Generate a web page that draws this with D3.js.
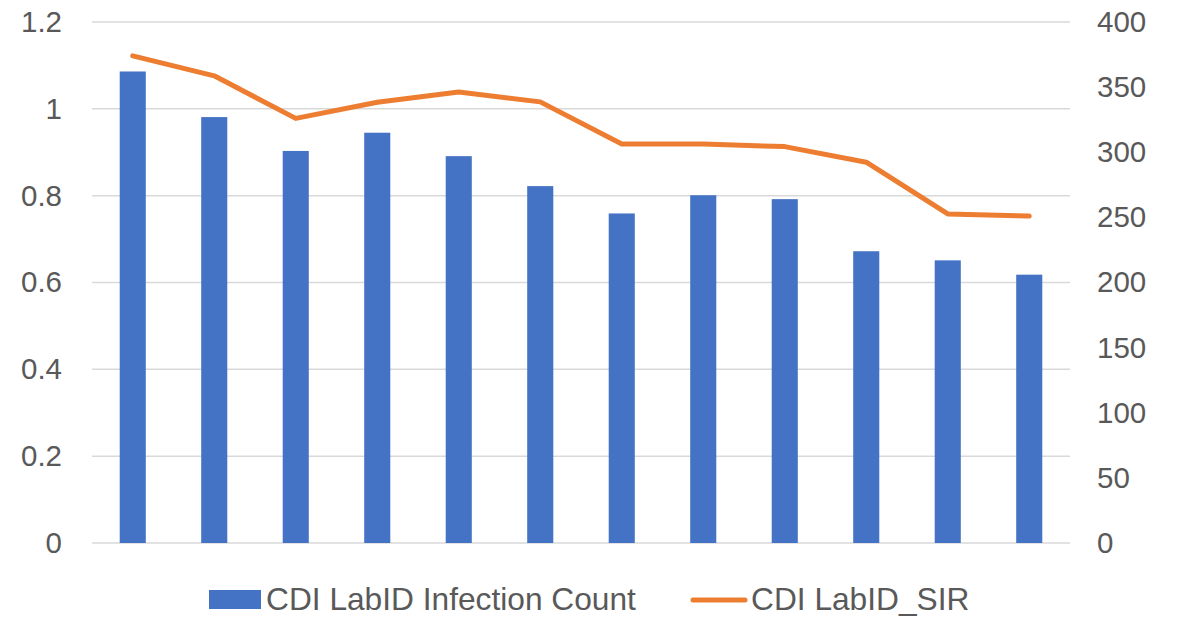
<!DOCTYPE html>
<html>
<head>
<meta charset="utf-8">
<script src="https://cdn.jsdelivr.net/npm/d3@7"></script>
<style>
  body { margin: 0; background: #fff; }
  text { font-family: "Liberation Sans", Arial, sans-serif; fill: #595959; }
</style>
</head>
<body>
<svg id="drawing_region"></svg>
<script>

// categories (no labels shown on the x axis)
var categories = ['1','2','3','4','5','6','7','8','9','10','11','12'];
// CDI LabID Infection Count (right axis)
var infectionCount = [362, 327, 301, 315, 297, 274, 253, 267, 264, 224, 217, 206];
// CDI LabID_SIR (left axis)
var sirValues = [1.122, 1.076, 0.978, 1.015, 1.039, 1.016, 0.919, 0.919, 0.913, 0.877, 0.758, 0.753];
var leftTicks = [0, 0.2, 0.4, 0.6, 0.8, 1, 1.2];
var rightTicks = [0, 50, 100, 150, 200, 250, 300, 350, 400];
var seriesNames = ['CDI LabID Infection Count', 'CDI LabID_SIR'];

var config = {
    width: 1178,
    height: 618,
    margin: {top: 22, right: 108, bottom: 75, left: 92}
};

var svg = d3.select('#drawing_region')
    .attr('width', config.width)
    .attr('height', config.height);

var inner_width = config.width - config.margin.left - config.margin.right;
var inner_height = config.height - config.margin.top - config.margin.bottom;

var chart = svg.append('g')
    .attr('transform', `translate(${config.margin.left}, ${config.margin.top})`);

var xscale = d3.scaleBand()
    .domain(categories)
    .range([0, inner_width])
    .paddingInner(0.68)
    .paddingOuter(0.34);

var yleft = d3.scaleLinear()
    .domain([0, 1.2])
    .range([inner_height, 0]);

var yright = d3.scaleLinear()
    .domain([0, 400])
    .range([inner_height, 0]);

// gridlines follow the left axis
chart.append('g')
    .selectAll('line')
    .data(leftTicks)
    .enter()
    .append('line')
    .attr('x1', 0)
    .attr('x2', inner_width)
    .attr('y1', d => yleft(d))
    .attr('y2', d => yleft(d))
    .attr('stroke', '#d9d9d9')
    .attr('stroke-width', 1.5);

// left axis
var left_axis = chart.append('g')
    .attr('transform', 'translate(-30, 0)')
    .call(d3.axisLeft(yleft).tickValues(leftTicks).tickSize(0).tickPadding(0).tickFormat(d3.format('~g')));
left_axis.select('.domain').remove();
left_axis.selectAll('text')
    .style('font-size', '29.5px')
    .style('font-family', '"Liberation Sans", Arial, sans-serif')
    .attr('fill', '#595959');

// right axis
var right_axis = chart.append('g')
    .attr('transform', `translate(${inner_width + 27}, 0)`)
    .call(d3.axisRight(yright).tickValues(rightTicks).tickSize(0).tickPadding(0));
right_axis.select('.domain').remove();
right_axis.selectAll('text')
    .style('font-size', '29.5px')
    .style('font-family', '"Liberation Sans", Arial, sans-serif')
    .attr('fill', '#595959');

// bars
chart.append('g')
    .selectAll('rect')
    .data(infectionCount)
    .enter()
    .append('rect')
    .attr('x', (d, i) => xscale(categories[i]))
    .attr('y', d => yright(d))
    .attr('width', xscale.bandwidth())
    .attr('height', d => inner_height - yright(d))
    .attr('fill', '#4472c4');

// line
var line = d3.line()
    .x((d, i) => xscale(categories[i]) + xscale.bandwidth() / 2)
    .y(d => yleft(d));

chart.append('path')
    .datum(sirValues)
    .attr('d', line)
    .attr('fill', 'none')
    .attr('stroke', '#ed7d31')
    .attr('stroke-width', 5)
    .attr('stroke-linecap', 'round')
    .attr('stroke-linejoin', 'round');

// legend
var legend = svg.append('g');
legend.append('rect')
    .attr('x', 209)
    .attr('y', 590)
    .attr('width', 52)
    .attr('height', 19)
    .attr('fill', '#4472c4');
legend.append('text')
    .attr('x', 266)
    .attr('y', 599)
    .attr('dy', '0.35em')
    .style('font-size', '31.7px')
    .text(seriesNames[0]);
legend.append('line')
    .attr('x1', 693)
    .attr('x2', 745)
    .attr('y1', 600)
    .attr('y2', 600)
    .attr('stroke', '#ed7d31')
    .attr('stroke-width', 5)
    .attr('stroke-linecap', 'round');
legend.append('text')
    .attr('x', 751)
    .attr('y', 599)
    .attr('dy', '0.35em')
    .style('font-size', '31.7px')
    .text(seriesNames[1]);

</script>
</body>
</html>
